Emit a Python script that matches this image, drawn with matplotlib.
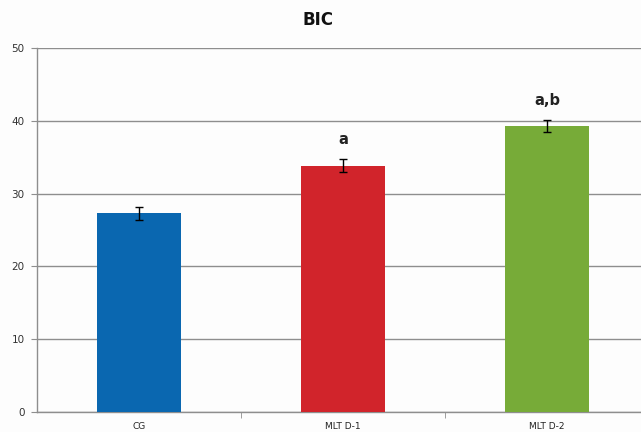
import matplotlib
matplotlib.use("Agg")
import matplotlib.pyplot as plt
import numpy as np

categories = ["CG", "MLT D-1", "MLT D-2"]
values = [27.3, 33.8, 39.3]
errors = [0.9, 0.9, 0.8]
labels = ["", "a", "a,b"]
colors = ["#0a67b0", "#d1242b", "#77ab38"]
yticks = [0, 10, 20, 30, 40, 50]

fig = plt.figure(figsize=(6.41, 4.32), dpi=100)
fig.patch.set_facecolor("#fdfdfd")
ax = fig.add_axes([37/641, 20/432, 612/641, 364/432])
ax.set_facecolor("#fdfdfd")

x = np.arange(len(categories))
ax.bar(x, values, width=0.41, color=colors, zorder=3)
ax.errorbar(x, values, yerr=errors, fmt="none", ecolor="black",
            elinewidth=1.0, capsize=3, capthick=1.0, zorder=4)
for xi, v, e, lab in zip(x, values, errors, labels):
    if lab:
        ax.text(xi, v + e + 2.7, lab, ha="center", va="center",
                fontsize=10.5, fontweight="bold", color="#222222",
                family="DejaVu Sans")

ax.set_xlim(-0.5, 2.5)
ax.set_ylim(0, 50)
ax.set_yticks(yticks)
ax.set_yticklabels([str(t) for t in yticks], fontsize=7.5, color="#333333")
ax.yaxis.grid(True, color="#8e8e8e", linewidth=1.0, zorder=0)
ax.set_axisbelow(True)

ax.set_xticks(x)
ax.set_xticklabels(categories, fontsize=6.5, color="#222222")
ax.tick_params(axis="x", length=0, pad=7)
ax.set_xticks([0.5, 1.5], minor=True)
ax.tick_params(axis="x", which="minor", length=4, color="#8e8e8e", direction="out")
ax.tick_params(axis="y", length=4, color="#8e8e8e", pad=5)

for s in ["top", "right"]:
    ax.spines[s].set_visible(False)
for s in ["left", "bottom"]:
    ax.spines[s].set_color("#8e8e8e")
    ax.spines[s].set_linewidth(1.0)

fig.text(318/641, 1 - 20/432, "BIC", ha="center", va="center",
         fontsize=12, fontweight="bold", color="#111111")

fig.savefig("out.png", dpi=100, facecolor=fig.get_facecolor())
